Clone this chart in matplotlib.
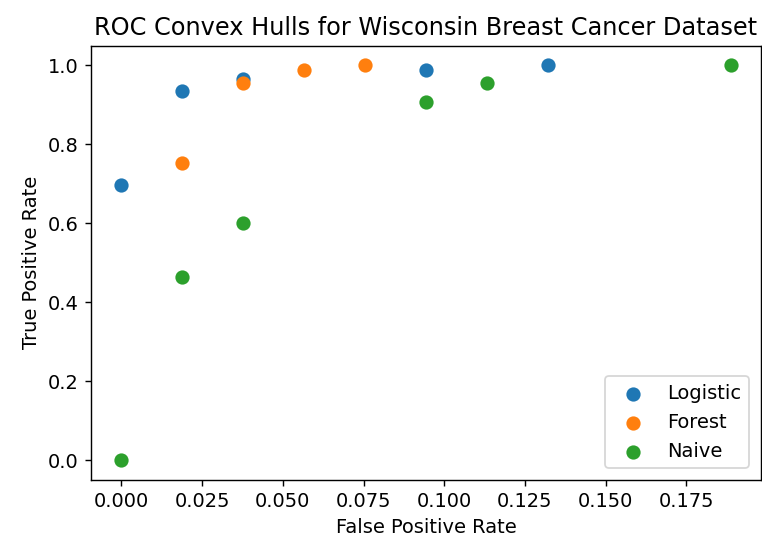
import matplotlib
matplotlib.use("Agg")
import matplotlib.pyplot as plt

# false positive / true positive rates
log_fpr = [0.0, 0.0189, 0.0377, 0.0943, 0.1321]
log_tpr = [0.697, 0.934, 0.965, 0.989, 1.0]

forest_fpr = [0.0189, 0.0377, 0.0566, 0.0755]
forest_tpr = [0.752, 0.954, 0.989, 1.0]

naive_fpr = [0.0, 0.0189, 0.0377, 0.0943, 0.1132, 0.1887]
naive_tpr = [0.0, 0.465, 0.601, 0.908, 0.954, 1.0]

plt.rcParams["font.size"] = 11

fig = plt.figure(figsize=(6.0, 542 / 127), dpi=127)
ax = fig.add_axes([91 / 762, 1 - 480 / 542, (761 - 91) / 762, (480 - 45.5) / 542])

ax.scatter(log_fpr, log_tpr, s=50, label="Logistic")
ax.scatter(forest_fpr, forest_tpr, s=50, label="Forest")
ax.scatter(naive_fpr, naive_tpr, s=50, label="Naive")

ax.set_title("ROC Convex Hulls for Wisconsin Breast Cancer Dataset", fontsize=13.6)
ax.set_xlabel("False Positive Rate")
ax.set_ylabel("True Positive Rate")
ax.legend(loc="lower right", borderaxespad=0.6)

fig.savefig("out.png", dpi=127)
